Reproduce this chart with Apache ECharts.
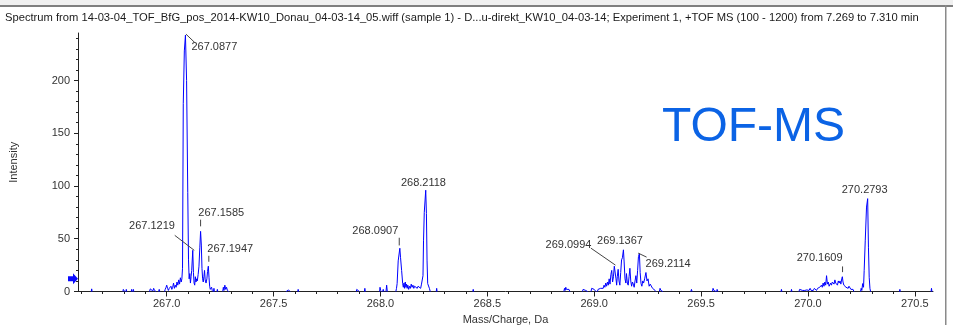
<!DOCTYPE html>
<html>
<head>
<meta charset="utf-8">
<script src="https://cdn.jsdelivr.net/npm/echarts@6/dist/echarts.min.js"></script>
<style>html,body{margin:0;padding:0;background:#fff}#c{width:953px;height:325px}</style>
</head>
<body>
<div id="c"></div>
<script>
// ---------- DATA ----------
const headerText = 'Spectrum from 14-03-04_TOF_BfG_pos_2014-KW10_Donau_04-03-14_05.wiff (sample 1) - D...u-direkt_KW10_04-03-14; Experiment 1, +TOF MS (100 - 1200) from 7.269 to 7.310 min';
const badgeText = 'TOF-MS';
const xAxisName = 'Mass/Charge, Da';
const yAxisName = 'Intensity';

const xTickValues = [267.0, 267.5, 268.0, 268.5, 269.0, 269.5, 270.0, 270.5];
const xTickLabels = ['267.0', '267.5', '268.0', '268.5', '269.0', '269.5', '270.0', '270.5'];
const yTickValues = [0, 50, 100, 150, 200];
const yTickLabels = ['0', '50', '100', '150', '200'];

// profile spectrum, segments of [m/z, intensity]
const spec267 = [
  [[266.647,0],[266.649,2.5],[266.651,0]],
  [[266.795,0],[266.797,2],[266.800,1],[266.803,0]],
  [[266.809,0],[266.811,2],[266.813,0]],
  [[266.834,0],[266.836,2],[266.838,0]],
  [[266.842,0],[266.844,2],[266.846,0]],
  [[266.920,0],[266.923,2.5],[266.927,1],[266.931,2],[266.935,0.5],[266.939,3],[266.943,1],[266.947,2],[266.950,0]],
  [[266.962,0],[266.965,2],[266.968,0]],
  [[266.990,0],[266.993,2],[266.997,4],[267.000,6],[267.004,3],[267.008,1],[267.012,3],[267.016,2],[267.020,5],[267.024,2],[267.028,4],[267.032,8],[267.036,3],[267.040,6],[267.044,4],[267.048,9],[267.052,6],[267.056,11],[267.060,7],[267.064,13],[267.068,9],[267.071,12],[267.074,22],[267.0775,178],[267.0825,228],[267.0877,243],[267.093,200],[267.0985,94],[267.102,30],[267.105,12],[267.108,17],[267.111,8],[267.114,14],[267.117,20],[267.1219,39],[267.125,18],[267.128,8],[267.131,6],[267.134,14],[267.137,9],[267.140,12],[267.143,10],[267.147,16],[267.151,24],[267.155,42],[267.1585,57],[267.162,44],[267.165,22],[267.168,12],[267.171,9],[267.174,14],[267.177,20],[267.180,11],[267.184,8],[267.188,12],[267.191,19],[267.1947,24],[267.198,13],[267.201,5],[267.204,2],[267.207,1],[267.210,4],[267.213,1],[267.216,0]],
  [[267.219,0],[267.221,3],[267.223,0]],
  [[267.235,0],[267.237,2],[267.239,0]],
  [[267.262,0],[267.265,4],[267.268,1],[267.272,6],[267.276,2],[267.280,4],[267.284,1],[267.288,1.5],[267.290,0]]
];
const spec268 = [
  [[267.559,0],[267.561,1.5],[267.565,1],[267.570,1.5],[267.577,0]],
  [[267.613,0],[267.615,2],[267.617,0]],
  [[267.887,0],[267.889,2],[267.893,1],[267.897,2],[267.901,0]],
  [[267.925,0],[267.927,3],[267.929,0]],
  [[267.996,0],[267.998,4],[268.001,1],[268.004,0]],
  [[268.010,0],[268.013,2],[268.016,0]],
  [[268.026,0],[268.029,6],[268.032,0]],
  [[268.072,0],[268.075,3],[268.078,7.5],[268.083,29],[268.0907,41],[268.094,32],[268.099,20],[268.104,7.5],[268.107,4],[268.110,8],[268.113,3],[268.116,9],[268.119,4],[268.122,7],[268.125,3],[268.128,6],[268.132,2],[268.136,5],[268.140,3],[268.144,7],[268.148,4],[268.152,6],[268.156,3],[268.160,5],[268.164,4],[268.168,6],[268.172,3],[268.176,5],[268.180,4],[268.184,6],[268.188,3],[268.192,7],[268.196,6],[268.199,15],[268.2015,48],[268.205,75],[268.2118,96],[268.215,74],[268.218,29],[268.221,7.5],[268.225,6],[268.229,3],[268.233,0]],
  [[268.261,0],[268.263,3],[268.265,0]],
  [[268.432,0],[268.434,2],[268.436,0]]
];
const spec269 = [
  [[268.858,0],[268.861,3],[268.864,1],[268.867,4],[268.870,2],[268.874,3],[268.878,1],[268.882,2],[268.886,0]],
  [[268.945,0],[268.948,2],[268.952,1],[268.956,2.5],[268.960,1],[268.965,2],[268.969,0]],
  [[268.985,0],[268.988,3],[268.992,2],[268.996,4],[269.000,2],[269.004,1],[269.008,0]],
  [[269.015,0],[269.018,2],[269.022,3],[269.026,1],[269.030,3],[269.034,2],[269.038,4],[269.042,3],[269.046,6],[269.050,4],[269.054,8],[269.058,5],[269.062,9],[269.066,6],[269.070,12],[269.074,7],[269.078,16],[269.082,20],[269.086,9],[269.090,14],[269.094,24],[269.0994,25],[269.102,12],[269.105,6],[269.108,14],[269.112,21],[269.116,10],[269.120,6],[269.124,18],[269.128,30],[269.132,32],[269.1367,39.5],[269.140,28],[269.144,12],[269.148,8],[269.151,17],[269.155,8],[269.159,6],[269.163,14],[269.167,22],[269.171,10],[269.175,5],[269.179,9],[269.183,7],[269.187,4],[269.191,10],[269.195,15],[269.199,8],[269.203,20],[269.207,33],[269.2114,36],[269.215,18],[269.219,7.5],[269.223,5],[269.227,10],[269.231,8],[269.236,12],[269.242,18],[269.247,10],[269.252,12],[269.257,5],[269.262,7],[269.268,6],[269.273,3],[269.278,4],[269.281,3],[269.285,1],[269.289,0]],
  [[269.305,0],[269.308,3],[269.312,1],[269.317,2.5],[269.321,0]],
  [[269.452,0],[269.455,2],[269.458,0]],
  [[269.553,0],[269.556,3],[269.560,1],[269.565,2],[269.570,0]],
  [[269.573,0],[269.575,2],[269.579,0]]
];
const spec270 = [
  [[269.874,0],[269.876,2],[269.878,0]],
  [[269.921,0],[269.923,2],[269.925,0]],
  [[269.958,0],[269.961,2],[269.965,1],[269.970,2],[269.975,1],[269.980,2],[269.985,1],[269.990,2],[269.995,1.5],[270.000,2],[270.005,1],[270.010,3],[270.015,1],[270.020,2],[270.025,1],[270.030,3],[270.035,2],[270.040,1],[270.045,3],[270.050,2],[270.055,4],[270.059,3],[270.063,6],[270.067,4],[270.071,8],[270.075,5],[270.079,9],[270.083,6],[270.087,15],[270.091,7],[270.095,9],[270.099,5],[270.102,6],[270.106,8],[270.110,6],[270.114,9],[270.118,10],[270.122,7],[270.126,11],[270.130,8],[270.134,9],[270.138,6],[270.142,10],[270.146,8],[270.150,10],[270.154,7],[270.158,12],[270.1609,14],[270.164,9],[270.168,6],[270.173,7.5],[270.178,4],[270.183,5.7],[270.188,3],[270.192,5],[270.196,4],[270.201,2],[270.206,3],[270.211,2],[270.215,0]],
  [[270.246,0],[270.249,3],[270.252,1],[270.256,7.5],[270.260,4],[270.263,20],[270.268,48],[270.274,80],[270.2793,88],[270.283,42],[270.2865,13.5],[270.290,3],[270.293,0]],
  [[270.428,0],[270.430,2],[270.432,0]],
  [[270.576,0],[270.578,3],[270.580,0]]
];

// annotated peaks
const peakLabels = ['267.0877','267.1219','267.1585','267.1947','268.0907','268.2118','269.0994','269.1367','269.2114','270.1609','270.2793'];
const peakMz     = [267.0877, 267.1219, 267.1585, 267.1947, 268.0907, 268.2118, 269.0994, 269.1367, 269.2114, 270.1609, 270.2793];
const peakInt    = [243, 39, 57, 24, 41, 96, 25, 39.5, 36, 14, 88];

const arrowLevel = 12;

// ---------- STYLE / LAYOUT ----------
const FONT = '"Liberation Sans", Arial, sans-serif';
const TXT = '#333333';
const LINE_BLUE = '#0000ff';
// label placement relative to the peak top (pixels)
const annoStyle = [
  {align:'left',   dx: 6,    dy: 11.6, line:[0.5,-1, 9.5, 7.6]},
  {align:'right',  dx:-17.8, dy:-24.2, line:[1.5, 0, -18, -15]},
  {align:'left',   dx:-2.3,  dy:-18.3, line:[0,-11.7, 0, -5]},
  {align:'left',   dx:-1,    dy:-17.4, line:[0.5,-10.4, 0.5, -4.4]},
  {align:'right',  dx:-1.6,  dy:-17.1, line:[-0.6,-10.5,-0.6,-2.8]},
  {align:'center', dx:-2.3,  dy:-7.6,  line:null},
  {align:'right',  dx:-24,   dy:-20.4, line:[0,0,-24.6,-17]},
  {align:'center', dx:-3.4,  dy:-8.7,  line:null},
  {align:'left',   dx:6.2,   dy:10.2,  line:[-1.2,-0.4,7.2,3.6]},
  {align:'right',  dx:0.2,   dy:-19,   line:[0.2,-10.3,0.2,-4.6]},
  {align:'center', dx:-3,    dy:-8.3,  line:null}
];

const X_MIN = 266.585, X_MAX = 270.585, Y_MAX = 245;

function joinSegments(groups) {
  const out = [];
  groups.forEach(g => g.forEach(seg => {
    if (out.length) out.push([seg[0][0], '-']);
    seg.forEach(p => out.push(p));
  }));
  return out;
}
const lineData = joinSegments([spec267, spec268, spec269, spec270]);

function stepValues(from, to, step, skipEvery) {
  const v = [];
  const n = Math.round((to - from) / step);
  for (let i = 0; i <= n; i++) {
    const val = Math.round((from + i * step) * 1000) / 1000;
    if (skipEvery && Math.abs(val / skipEvery - Math.round(val / skipEvery)) < 1e-6) continue;
    v.push(val);
  }
  return v;
}
const xMinor = stepValues(266.6, 270.5, 0.1, 0.5);
const yMinor = stepValues(10, 240, 10, 50);

const chart = echarts.init(document.getElementById('c'), null, {renderer: 'canvas'});

const option = {
  animation: false,
  backgroundColor: '#ffffff',
  title: [
    {text: headerText, left: 5, top: 12, padding: 0,
     textStyle: {fontFamily: FONT, fontSize: 11.2, fontWeight: 'normal', color: '#1a1a1a'}},
    {text: badgeText, left: 662, top: 104, padding: 0,
     textStyle: {fontFamily: FONT, fontSize: 48, fontWeight: 'normal', color: '#0b63e5'}}
  ],
  grid: {left: 78, right: 20, top: 33, bottom: 33.5, containLabel: false, outerBoundsMode: 'none'},
  xAxis: [
    {
      type: 'value', min: X_MIN, max: X_MAX, position: 'bottom',
      name: xAxisName, nameLocation: 'middle', nameGap: 23,
      nameTextStyle: {fontFamily: FONT, fontSize: 11, color: TXT},
      axisLine: {show: true, lineStyle: {color: '#222', width: 1}},
      axisTick: {show: true, length: 5, customValues: xTickValues, lineStyle: {color: '#222'}},
      axisLabel: {show: true, customValues: xTickValues, margin: 7,
        fontFamily: FONT, fontSize: 11, color: TXT,
        formatter: v => { const i = xTickValues.findIndex(t => Math.abs(t - v) < 1e-6); return i >= 0 ? xTickLabels[i] : ''; }},
      splitLine: {show: false}
    },
    {
      type: 'value', min: X_MIN, max: X_MAX, position: 'bottom', gridIndex: 0,
      axisLine: {show: false},
      axisTick: {show: true, length: 2.5, customValues: xMinor, lineStyle: {color: '#222'}},
      axisLabel: {show: false}, splitLine: {show: false}
    }
  ],
  yAxis: [
    {
      type: 'value', min: 0, max: Y_MAX, position: 'left',
      name: yAxisName, nameLocation: 'middle', nameGap: 59,
      nameTextStyle: {fontFamily: FONT, fontSize: 11, color: TXT},
      axisLine: {show: true, lineStyle: {color: '#222', width: 1}},
      axisTick: {show: true, length: 4, customValues: yTickValues, lineStyle: {color: '#222'}},
      axisLabel: {show: true, customValues: yTickValues, margin: 8,
        fontFamily: FONT, fontSize: 11, color: TXT,
        formatter: v => { const i = yTickValues.indexOf(v); return i >= 0 ? yTickLabels[i] : ''; }},
      splitLine: {show: false}
    },
    {
      type: 'value', min: 0, max: Y_MAX, position: 'left', offset: 0, gridIndex: 0,
      axisLine: {show: false},
      axisTick: {show: true, length: 2, customValues: yMinor, lineStyle: {color: '#222'}},
      axisLabel: {show: false}, splitLine: {show: false}
    }
  ],
  series: [
    {
      type: 'line', xAxisIndex: 0, yAxisIndex: 0,
      data: lineData, showSymbol: false, symbol: 'none', connectNulls: false,
      lineStyle: {color: LINE_BLUE, width: 1}, itemStyle: {color: LINE_BLUE},
      silent: true, z: 2
    },
    {
      type: 'custom', xAxisIndex: 0, yAxisIndex: 0, coordinateSystem: 'cartesian2d',
      data: peakMz.map((m, i) => [m, peakInt[i], i]),
      encode: {x: 0, y: 1},
      clip: false, silent: true, z: 5,
      renderItem: function (params, api) {
        const i = api.value(2);
        const p = api.coord([api.value(0), api.value(1)]);
        const s = annoStyle[i];
        const children = [{
          type: 'text', x: p[0] + s.dx, y: p[1] + s.dy,
          style: {text: peakLabels[i], fill: TXT, font: '11px ' + FONT, align: s.align, verticalAlign: 'middle'}
        }];
        if (s.line) {
          children.push({
            type: 'line',
            shape: {x1: p[0] + s.line[0], y1: p[1] + s.line[1], x2: p[0] + s.line[2], y2: p[1] + s.line[3]},
            style: {stroke: '#444', lineWidth: 1}
          });
        }
        return {type: 'group', children: children};
      }
    }
  ]
};
chart.setOption(option);

// window frame decoration and threshold arrow tied to the y axis
const ay = chart.convertToPixel({yAxisIndex: 0}, arrowLevel);
const ax = chart.convertToPixel({xAxisIndex: 0}, X_MIN);
chart.setOption({
  graphic: [
    {type: 'rect', shape: {x: 0, y: 0, width: 953, height: 5}, style: {fill: '#f0f0f0'}, z: 0},
    {type: 'rect', shape: {x: 0, y: 5, width: 953, height: 2}, style: {fill: '#7f7f7f'}, z: 1},
    {type: 'rect', shape: {x: 945, y: 5, width: 1.5, height: 320}, style: {fill: '#8a8a8a'}, z: 1},
    {type: 'polygon', shape: {points: [
      [ax - 10, ay - 2.5], [ax - 5, ay - 2.5], [ax - 5, ay - 5.5], [ax, ay],
      [ax - 5, ay + 5.5], [ax - 5, ay + 2.5], [ax - 10, ay + 2.5]]},
     style: {fill: '#0a0aff'}, z: 10}
  ]
});
</script>
</body>
</html>
